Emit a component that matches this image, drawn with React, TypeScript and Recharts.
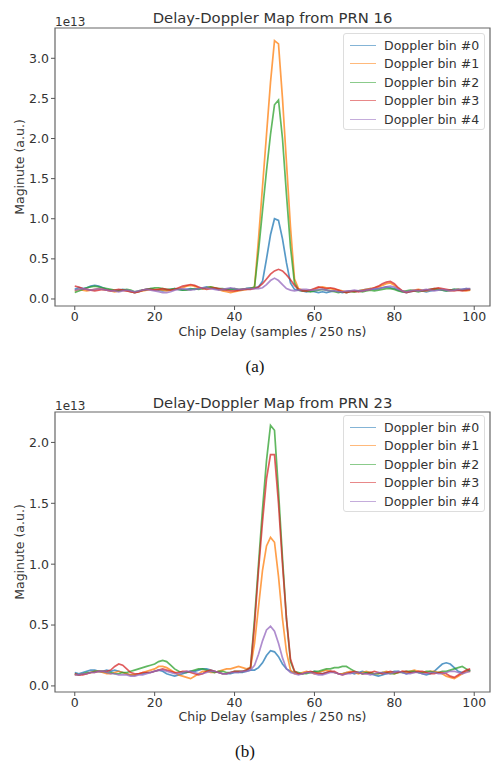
import React from 'react';
import { LineChart, Line, XAxis, YAxis, ReferenceArea } from 'recharts';

// values in units of 1e13, chip delay 0..99
const prn16Bin0 = [
	0.12, 0.14, 0.13, 0.14, 0.16, 0.17, 0.16, 0.14, 0.12, 0.11,
	0.10, 0.11, 0.12, 0.11, 0.09, 0.08, 0.09, 0.11, 0.12, 0.13,
	0.12, 0.11, 0.10, 0.11, 0.12, 0.13, 0.12, 0.11, 0.12, 0.13,
	0.12, 0.13, 0.14, 0.15, 0.14, 0.13, 0.12, 0.11, 0.12, 0.13,
	0.12, 0.11, 0.12, 0.13, 0.14, 0.14, 0.15, 0.22, 0.50, 0.80,
	1.00, 0.98, 0.75, 0.45, 0.20, 0.12, 0.11, 0.10, 0.09, 0.10,
	0.09, 0.08, 0.09, 0.08, 0.09, 0.10, 0.09, 0.08, 0.09, 0.10,
	0.09, 0.10, 0.11, 0.12, 0.13, 0.12, 0.13, 0.14, 0.15, 0.14,
	0.13, 0.11, 0.09, 0.08, 0.09, 0.10, 0.11, 0.10, 0.09, 0.10,
	0.11, 0.12, 0.11, 0.10, 0.11, 0.12, 0.11, 0.12, 0.13, 0.12,
];
const prn16Bin1 = [
	0.10, 0.12, 0.11, 0.10, 0.11, 0.12, 0.13, 0.12, 0.11, 0.10,
	0.09, 0.10, 0.11, 0.10, 0.09, 0.08, 0.09, 0.10, 0.11, 0.12,
	0.12, 0.12, 0.11, 0.10, 0.11, 0.12, 0.13, 0.14, 0.16, 0.17,
	0.16, 0.14, 0.13, 0.14, 0.15, 0.14, 0.12, 0.10, 0.09, 0.08,
	0.09, 0.10, 0.11, 0.12, 0.13, 0.15, 0.75, 1.40, 2.05, 2.70,
	3.22, 3.18, 2.50, 1.70, 0.90, 0.25, 0.13, 0.11, 0.10, 0.11,
	0.12, 0.14, 0.15, 0.14, 0.13, 0.12, 0.11, 0.10, 0.09, 0.10,
	0.09, 0.10, 0.11, 0.12, 0.13, 0.14, 0.15, 0.17, 0.19, 0.20,
	0.17, 0.13, 0.10, 0.09, 0.10, 0.11, 0.12, 0.11, 0.10, 0.11,
	0.12, 0.13, 0.12, 0.11, 0.10, 0.11, 0.12, 0.11, 0.10, 0.11,
];
const prn16Bin2 = [
	0.08, 0.10, 0.12, 0.14, 0.15, 0.16, 0.15, 0.14, 0.13, 0.12,
	0.11, 0.10, 0.11, 0.12, 0.11, 0.09, 0.10, 0.11, 0.12, 0.13,
	0.14, 0.14, 0.13, 0.12, 0.12, 0.13, 0.12, 0.11, 0.11, 0.12,
	0.13, 0.12, 0.13, 0.14, 0.15, 0.14, 0.13, 0.13, 0.12, 0.12,
	0.13, 0.12, 0.12, 0.13, 0.13, 0.15, 0.60, 1.10, 1.60, 2.05,
	2.42, 2.48, 2.00, 1.30, 0.65, 0.20, 0.11, 0.10, 0.10, 0.09,
	0.10, 0.11, 0.12, 0.11, 0.10, 0.09, 0.08, 0.09, 0.08, 0.09,
	0.09, 0.10, 0.09, 0.10, 0.11, 0.10, 0.11, 0.12, 0.13, 0.13,
	0.12, 0.10, 0.09, 0.10, 0.11, 0.10, 0.09, 0.10, 0.11, 0.12,
	0.13, 0.12, 0.11, 0.10, 0.11, 0.12, 0.12, 0.11, 0.12, 0.12,
];
const prn16Bin3 = [
	0.16, 0.15, 0.13, 0.12, 0.11, 0.10, 0.11, 0.12, 0.11, 0.10,
	0.11, 0.12, 0.11, 0.10, 0.09, 0.08, 0.09, 0.11, 0.12, 0.12,
	0.11, 0.12, 0.13, 0.12, 0.11, 0.12, 0.14, 0.16, 0.17, 0.18,
	0.17, 0.15, 0.13, 0.12, 0.13, 0.14, 0.13, 0.12, 0.11, 0.10,
	0.10, 0.11, 0.12, 0.12, 0.12, 0.13, 0.15, 0.19, 0.25, 0.31,
	0.35, 0.37, 0.35, 0.30, 0.24, 0.17, 0.12, 0.10, 0.10, 0.11,
	0.13, 0.15, 0.14, 0.13, 0.14, 0.13, 0.11, 0.09, 0.08, 0.09,
	0.10, 0.09, 0.10, 0.11, 0.12, 0.14, 0.16, 0.19, 0.21, 0.22,
	0.19, 0.14, 0.10, 0.08, 0.09, 0.10, 0.11, 0.10, 0.11, 0.12,
	0.13, 0.14, 0.13, 0.12, 0.11, 0.10, 0.11, 0.10, 0.11, 0.12,
];
const prn16Bin4 = [
	0.11, 0.12, 0.13, 0.12, 0.11, 0.12, 0.13, 0.12, 0.11, 0.10,
	0.10, 0.09, 0.10, 0.11, 0.10, 0.09, 0.10, 0.11, 0.12, 0.11,
	0.10, 0.09, 0.08, 0.08, 0.09, 0.11, 0.12, 0.13, 0.12, 0.11,
	0.12, 0.13, 0.14, 0.14, 0.13, 0.12, 0.11, 0.12, 0.13, 0.14,
	0.13, 0.12, 0.12, 0.13, 0.13, 0.13, 0.13, 0.14, 0.18, 0.23,
	0.26, 0.23, 0.18, 0.13, 0.11, 0.10, 0.11, 0.12, 0.12, 0.11,
	0.11, 0.12, 0.12, 0.11, 0.10, 0.10, 0.09, 0.09, 0.10, 0.10,
	0.11, 0.10, 0.10, 0.11, 0.12, 0.13, 0.13, 0.14, 0.15, 0.16,
	0.15, 0.12, 0.10, 0.09, 0.10, 0.11, 0.10, 0.11, 0.12, 0.11,
	0.10, 0.11, 0.12, 0.11, 0.10, 0.11, 0.12, 0.12, 0.13, 0.13,
];

const prn23Bin0 = [
	0.11, 0.10, 0.11, 0.12, 0.13, 0.13, 0.12, 0.12, 0.13, 0.12,
	0.13, 0.12, 0.11, 0.10, 0.09, 0.09, 0.10, 0.10, 0.11, 0.11,
	0.12, 0.13, 0.12, 0.10, 0.09, 0.08, 0.09, 0.10, 0.11, 0.12,
	0.12, 0.13, 0.14, 0.14, 0.13, 0.12, 0.11, 0.10, 0.10, 0.10,
	0.11, 0.11, 0.11, 0.12, 0.13, 0.13, 0.15, 0.19, 0.25, 0.29,
	0.28, 0.24, 0.18, 0.14, 0.12, 0.11, 0.10, 0.10, 0.11, 0.11,
	0.12, 0.11, 0.10, 0.11, 0.12, 0.11, 0.10, 0.10, 0.11, 0.11,
	0.10, 0.11, 0.12, 0.11, 0.10, 0.09, 0.08, 0.09, 0.10, 0.11,
	0.12, 0.12, 0.11, 0.10, 0.11, 0.12, 0.11, 0.10, 0.09, 0.10,
	0.12, 0.15, 0.18, 0.19, 0.18, 0.15, 0.12, 0.11, 0.12, 0.13,
];
const prn23Bin1 = [
	0.09, 0.09, 0.10, 0.10, 0.11, 0.12, 0.12, 0.11, 0.10, 0.10,
	0.11, 0.12, 0.11, 0.10, 0.09, 0.09, 0.10, 0.11, 0.12, 0.13,
	0.14, 0.16, 0.16, 0.15, 0.13, 0.11, 0.09, 0.08, 0.07, 0.06,
	0.08, 0.10, 0.12, 0.12, 0.11, 0.11, 0.12, 0.13, 0.14, 0.14,
	0.15, 0.16, 0.15, 0.14, 0.15, 0.35, 0.65, 0.95, 1.15, 1.22,
	1.18, 0.90, 0.55, 0.28, 0.13, 0.10, 0.10, 0.11, 0.12, 0.11,
	0.10, 0.11, 0.12, 0.13, 0.12, 0.11, 0.10, 0.10, 0.11, 0.12,
	0.11, 0.10, 0.11, 0.12, 0.11, 0.10, 0.10, 0.11, 0.12, 0.11,
	0.10, 0.11, 0.12, 0.11, 0.12, 0.13, 0.12, 0.11, 0.11, 0.12,
	0.12, 0.11, 0.10, 0.08, 0.07, 0.06, 0.08, 0.10, 0.12, 0.12,
];
const prn23Bin2 = [
	0.10, 0.09, 0.10, 0.11, 0.11, 0.12, 0.12, 0.12, 0.11, 0.11,
	0.10, 0.10, 0.11, 0.11, 0.12, 0.13, 0.14, 0.15, 0.16, 0.17,
	0.18, 0.20, 0.21, 0.20, 0.17, 0.14, 0.12, 0.11, 0.11, 0.12,
	0.13, 0.14, 0.14, 0.13, 0.12, 0.11, 0.12, 0.12, 0.11, 0.11,
	0.12, 0.12, 0.12, 0.13, 0.15, 0.55, 1.00, 1.45, 1.85, 2.14,
	2.10, 1.60, 1.05, 0.55, 0.20, 0.12, 0.11, 0.10, 0.10, 0.11,
	0.12, 0.12, 0.13, 0.14, 0.14, 0.15, 0.15, 0.16, 0.16, 0.14,
	0.12, 0.11, 0.10, 0.11, 0.11, 0.10, 0.10, 0.11, 0.11, 0.10,
	0.10, 0.11, 0.11, 0.12, 0.12, 0.12, 0.11, 0.11, 0.12, 0.12,
	0.11, 0.11, 0.12, 0.12, 0.13, 0.14, 0.15, 0.16, 0.14, 0.12,
];
const prn23Bin3 = [
	0.10, 0.09, 0.09, 0.10, 0.11, 0.11, 0.12, 0.12, 0.12, 0.13,
	0.16, 0.18, 0.17, 0.14, 0.11, 0.10, 0.10, 0.11, 0.11, 0.11,
	0.12, 0.13, 0.14, 0.13, 0.12, 0.11, 0.11, 0.12, 0.12, 0.11,
	0.10, 0.09, 0.10, 0.12, 0.13, 0.12, 0.11, 0.10, 0.10, 0.11,
	0.12, 0.12, 0.12, 0.13, 0.15, 0.50, 0.95, 1.35, 1.70, 1.90,
	1.90, 1.50, 1.00, 0.55, 0.22, 0.12, 0.10, 0.10, 0.11, 0.12,
	0.11, 0.10, 0.10, 0.11, 0.12, 0.12, 0.10, 0.09, 0.10, 0.11,
	0.12, 0.11, 0.10, 0.10, 0.11, 0.12, 0.11, 0.10, 0.11, 0.12,
	0.11, 0.11, 0.12, 0.12, 0.11, 0.11, 0.12, 0.12, 0.11, 0.10,
	0.10, 0.11, 0.11, 0.10, 0.08, 0.07, 0.09, 0.11, 0.13, 0.14,
];
const prn23Bin4 = [
	0.09, 0.09, 0.10, 0.10, 0.11, 0.11, 0.12, 0.12, 0.11, 0.10,
	0.10, 0.09, 0.09, 0.09, 0.08, 0.08, 0.09, 0.09, 0.10, 0.11,
	0.12, 0.13, 0.13, 0.12, 0.11, 0.10, 0.10, 0.11, 0.12, 0.12,
	0.11, 0.10, 0.10, 0.11, 0.12, 0.12, 0.11, 0.10, 0.10, 0.11,
	0.11, 0.11, 0.12, 0.12, 0.13, 0.17, 0.26, 0.37, 0.46, 0.49,
	0.45, 0.35, 0.23, 0.14, 0.11, 0.10, 0.09, 0.10, 0.11, 0.11,
	0.10, 0.09, 0.09, 0.10, 0.11, 0.11, 0.10, 0.09, 0.10, 0.10,
	0.11, 0.11, 0.10, 0.10, 0.09, 0.10, 0.11, 0.11, 0.10, 0.10,
	0.11, 0.12, 0.11, 0.10, 0.10, 0.11, 0.11, 0.10, 0.10, 0.11,
	0.11, 0.10, 0.10, 0.11, 0.12, 0.12, 0.11, 0.10, 0.11, 0.12,
];

const binNames = ['Doppler bin #0', 'Doppler bin #1', 'Doppler bin #2', 'Doppler bin #3', 'Doppler bin #4'];
const binColors = ['#1f77b4', '#ff7f0e', '#2ca02c', '#d62728', '#9467bd'];
const xTicks = [0, 20, 40, 60, 80, 100];
const prn16Ticks = [0, 0.5, 1.0, 1.5, 2.0, 2.5, 3.0];
const prn23Ticks = [0, 0.5, 1.0, 1.5, 2.0];

const toRows = (series: number[][]) =>
	series[0].map((_, i) => {
		const row: Record<string, number> = { delay: i };
		series.forEach((s, k) => {
			row['b' + k] = s[i];
		});
		return row;
	});

const prn16Rows = toRows([prn16Bin0, prn16Bin1, prn16Bin2, prn16Bin3, prn16Bin4]);
const prn23Rows = toRows([prn23Bin0, prn23Bin1, prn23Bin2, prn23Bin3, prn23Bin4]);

const FONT = '"DejaVu Sans", sans-serif';
const TEXT = '#333';
const X_DOMAIN: [number, number] = [-4.95, 103.95];

// legend drawn beside the chart so it doesn't eat into the plot height
const LegendBox = ({ top }: { top: number }) => (
	<div
		style={{
			position: 'absolute',
			left: 343,
			top,
			width: 142,
			height: 97,
			border: '1px solid #ddd',
			borderRadius: 3,
			background: 'rgba(255,255,255,0.8)',
			boxSizing: 'border-box',
			paddingTop: 2,
			fontFamily: FONT,
			fontSize: 12.5,
			color: TEXT,
		}}>
		{binNames.map((name, k) => (
			<div key={name} style={{ height: 18.5, display: 'flex', alignItems: 'center' }}>
				<span
					style={{
						display: 'inline-block',
						marginLeft: 6,
						width: 26,
						height: 0,
						borderTop: `1.5px solid ${binColors[k]}`,
						opacity: 0.55,
					}}
				/>
				<span style={{ marginLeft: 8, whiteSpace: 'nowrap' }}>{name}</span>
			</div>
		))}
	</div>
);

interface PanelProps {
	rows: Record<string, number>[];
	yDomain: [number, number];
	yTicks: number[];
	top: number;
	height: number;
	marginTop: number;
	marginBottom: number;
	legendTop: number;
}

const Panel = ({ rows, yDomain, yTicks, top, height, marginTop, marginBottom, legendTop }: PanelProps) => (
	<div style={{ position: 'absolute', left: 0, top, width: 492, height }}>
		<LineChart
			width={492}
			height={height}
			data={rows}
			margin={{ top: marginTop, right: 2, bottom: marginBottom, left: 0 }}>
			<XAxis
				dataKey="delay"
				type="number"
				domain={X_DOMAIN}
				ticks={xTicks}
				allowDataOverflow
				height={30}
				axisLine={false}
				tickSize={4}
				tickMargin={2}
				tickLine={{ stroke: '#555' }}
				tick={{ fill: TEXT, fontSize: 12.5, fontFamily: FONT }}
			/>
			<YAxis
				type="number"
				domain={yDomain}
				ticks={yTicks}
				allowDataOverflow
				width={55}
				axisLine={false}
				tickSize={4}
				tickMargin={2}
				tickLine={{ stroke: '#555' }}
				tickFormatter={(v: number) => v.toFixed(1)}
				tick={{ fill: TEXT, fontSize: 12.5, fontFamily: FONT }}
			/>
			<ReferenceArea
				x1={X_DOMAIN[0]}
				x2={X_DOMAIN[1]}
				y1={yDomain[0]}
				y2={yDomain[1]}
				fill="none"
				stroke="#666"
				strokeWidth={1.2}
				ifOverflow="visible"
			/>
			{binNames.map((name, k) => (
				<Line
					key={name}
					type="linear"
					dataKey={'b' + k}
					name={name}
					stroke={binColors[k]}
					strokeOpacity={0.75}
					strokeWidth={1.7}
					dot={false}
					activeDot={false}
					isAnimationActive={false}
				/>
			))}
		</LineChart>
		<LegendBox top={legendTop} />
	</div>
);

const Txt = ({ children, style }: { children: React.ReactNode; style: React.CSSProperties }) => (
	<div
		style={{
			position: 'absolute',
			fontFamily: FONT,
			color: TEXT,
			whiteSpace: 'nowrap',
			lineHeight: 1,
			...style,
		}}>
		{children}
	</div>
);

const App = () => (
	<div style={{ position: 'absolute', left: 0, top: 0, width: 492, height: 762, background: '#fff', overflow: 'hidden' }}>
		<Panel
			rows={prn16Rows}
			yDomain={[-0.0875, 3.3775]}
			yTicks={prn16Ticks}
			top={0}
			height={380}
			marginTop={28}
			marginBottom={44}
			legendTop={33}
		/>
		<Panel
			rows={prn23Rows}
			yDomain={[-0.05, 2.25]}
			yTicks={prn23Ticks}
			top={380}
			height={382}
			marginTop={32}
			marginBottom={40}
			legendTop={35}
		/>

		<Txt style={{ left: 0, width: 545, top: 11, textAlign: 'center', fontSize: 14.8 }}>Delay-Doppler Map from PRN 16</Txt>
		<Txt style={{ left: 55, top: 16, fontSize: 12 }}>1e13</Txt>
		<Txt style={{ left: 0, width: 545, top: 326, textAlign: 'center', fontSize: 12.5 }}>Chip Delay (samples / 250 ns)</Txt>
		<Txt style={{ left: 20, top: 167, fontSize: 12.5, transform: 'translate(-50%, -50%) rotate(-90deg)' }}>Maginute (a.u.)</Txt>
		<Txt style={{ left: 0, width: 510, top: 358, textAlign: 'center', fontSize: 17, fontFamily: '"Liberation Serif", serif', color: '#111' }}>(a)</Txt>

		<Txt style={{ left: 0, width: 545, top: 396, textAlign: 'center', fontSize: 14.8 }}>Delay-Doppler Map from PRN 23</Txt>
		<Txt style={{ left: 55, top: 400, fontSize: 12 }}>1e13</Txt>
		<Txt style={{ left: 0, width: 545, top: 711, textAlign: 'center', fontSize: 12.5 }}>Chip Delay (samples / 250 ns)</Txt>
		<Txt style={{ left: 20, top: 552, fontSize: 12.5, transform: 'translate(-50%, -50%) rotate(-90deg)' }}>Maginute (a.u.)</Txt>
		<Txt style={{ left: 0, width: 490, top: 743, textAlign: 'center', fontSize: 17, fontFamily: '"Liberation Serif", serif', color: '#111' }}>(b)</Txt>
	</div>
);

export default App;
